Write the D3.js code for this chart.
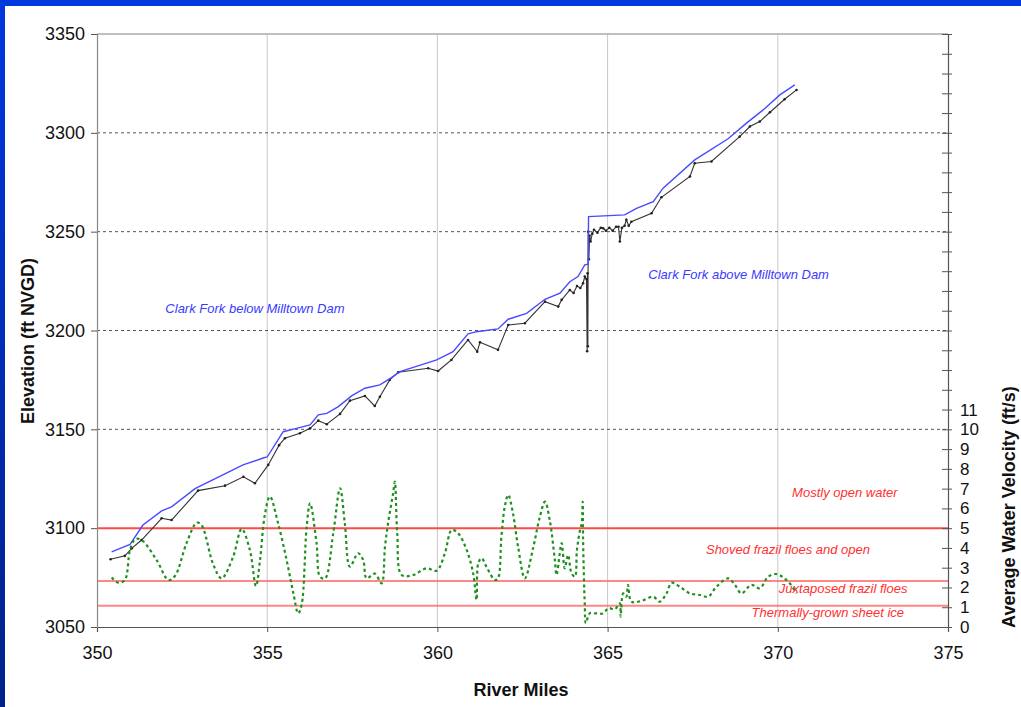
<!DOCTYPE html>
<html><head><meta charset="utf-8">
<script src="https://cdn.jsdelivr.net/npm/d3@7"></script>
<style>
body{margin:0;background:#fff;}
svg{display:block;font-family:"Liberation Sans",Arial,sans-serif;}
</style></head>
<body><svg id="c" width="1021" height="707"></svg>
<script>
// ---- data ----
const xTicks = [350, 355, 360, 365, 370, 375];
const elevTicks = [3050, 3100, 3150, 3200, 3250, 3300, 3350];
const velTickLabels = [0,1,2,3,4,5,6,7,8,9,10,11];

const wsMiles = [350.43,350.97,351.35,351.9,352.2,352.88,354.29,354.88,355.0,355.47,355.86,356.26,356.5,356.75,357.09,357.48,357.87,358.31,358.65,358.9,359.98,360.46,360.9,361.15,361.78,362.08,362.62,363.16,363.6,363.89,364.13,364.33,364.43,364.44,365.5,365.85,366.34,366.63,367.56,368.54,369.08,369.57,370.06,370.5];
const wsElev  = [3088,3091.8,3101.6,3108.7,3110.9,3120,3132,3135.5,3136,3148.8,3150.5,3152.2,3157.3,3158.1,3161.5,3166.9,3170.8,3172.5,3176.2,3179.2,3185.1,3189.3,3198.3,3199.4,3200.8,3205.7,3208.7,3215.8,3218.9,3224.7,3227.3,3233.2,3233.5,3257.6,3258.5,3261.8,3265.2,3272,3286.3,3297,3304.9,3311.6,3319.2,3324.3];

const bedMiles = [350.4,350.82,351.02,351.31,351.9,352.19,352.97,353.76,354.3,354.64,355.03,355.35,355.52,355.96,356.26,356.5,356.75,357.14,357.43,357.87,358.16,358.31,358.6,358.85,359.73,360.02,360.41,360.9,361.17,361.25,361.78,362.08,362.57,363.16,363.55,363.65,363.89,364.0,364.1,364.2,364.28,364.33,364.38,364.4,364.41,364.42,364.43,364.45,364.47,364.5,364.55,364.6,364.7,364.8,364.87,364.95,365.05,365.15,365.25,365.32,365.36,365.42,365.5,365.55,365.62,365.7,366.29,366.58,367.42,367.56,368.05,368.88,369.18,369.47,369.77,370.2,370.55];
const bedElev  = [3084.3,3086,3089.8,3094,3105,3104.1,3119,3121.5,3126,3122.7,3132,3142,3145.5,3148,3150.5,3154.4,3152.6,3157.8,3164.5,3166.9,3161.8,3166.5,3175,3178.9,3180.9,3179.5,3185.1,3195.2,3189.3,3194,3190.2,3202.8,3203.7,3214.6,3212.1,3215.5,3220.5,3219,3222.5,3221.5,3223.9,3227.3,3226,3189.5,3229,3192,3250,3236,3248,3245,3249,3251,3249.5,3252,3251.7,3250.5,3252,3250.5,3252.5,3252.5,3245,3252,3253,3256,3253,3255,3259.3,3267.4,3277.9,3284.6,3285.5,3298.1,3303.2,3305.7,3310.4,3317,3321.7];

const velMiles = [350.43,350.63,350.82,350.97,351.12,351.31,351.75,352.1,352.29,352.63,352.93,353.07,353.42,353.66,354.0,354.25,354.49,354.67,354.79,354.93,355.08,355.32,355.57,355.77,355.91,356.01,356.16,356.26,356.45,356.55,356.7,356.94,357.14,357.28,357.43,357.67,357.82,357.92,358.16,358.36,358.46,358.55,358.7,358.75,358.82,358.95,359.29,359.68,359.98,360.22,360.42,360.61,360.86,361.05,361.15,361.2,361.3,361.44,361.69,361.78,361.88,361.98,362.08,362.22,362.37,362.57,362.81,363.01,363.16,363.3,363.45,363.5,363.65,363.74,363.84,363.94,364.04,364.1,364.19,364.24,364.27,364.28,364.33,364.36,364.48,364.67,364.87,365.02,365.21,365.36,365.38,365.46,365.55,365.6,365.7,365.99,366.34,366.53,366.73,366.88,367.12,367.42,367.71,367.95,368.2,368.54,368.74,368.93,369.22,369.47,369.72,369.96,370.16,370.35,370.55];
const velValues = [2.5,2.24,2.38,3.9,4.44,4.4,3.39,2.38,2.58,4.24,5.28,5.16,3.14,2.46,3.56,4.96,3.9,2.07,3.39,5.67,6.6,5.25,3.39,1.7,0.69,1.11,5.08,6.26,4.24,2.55,2.46,4.74,7.02,5.25,3.05,3.73,3.39,2.46,2.7,2.21,4.06,5.25,6.77,7.35,4.74,2.63,2.63,2.97,2.85,3.73,4.91,4.74,3.9,2.72,1.37,3.22,3.48,3.05,2.38,2.46,4.57,6.09,6.68,5.75,4.06,2.46,3.98,5.58,6.34,5.41,3.39,2.63,4.24,2.97,3.64,2.72,2.55,3.9,4.91,5.25,6.34,4.4,1.11,0.2,0.7,0.69,0.69,0.95,0.9,1.2,0.52,1.7,1.53,2.13,1.28,1.32,1.53,1.28,1.7,2.24,2.04,1.7,1.62,1.53,2.04,2.46,2.13,1.7,2.13,1.96,2.55,2.68,2.51,2.21,1.7];

const iceThresholds = [5, 2.33, 1.08];
const iceLabels = ["Mostly open water","Shoved frazil floes and open","Juxtaposed frazil floes","Thermally-grown sheet ice"];
const iceLabelVel = [6.58, 3.69, 1.72, 0.51];
const iceLabelMile = [371.97, 370.3, 371.92, 371.47];
const reachLabels = ["Clark Fork below Milltown Dam","Clark Fork above Milltown Dam"];
const reachLabelMile = [354.64, 368.85];
const reachLabelElev = [3209, 3226];

// ---- chart ----
const svg = d3.select("#c");
const x = d3.scaleLinear([350, 375], [97, 948]);
const y = d3.scaleLinear([3050, 3350], [627, 34]);
const yv = d3.scaleLinear([0, 30], [627, 34]);

// frame
const defs = svg.append("defs");
const lg = defs.append("linearGradient").attr("id","fg").attr("x1",0).attr("y1",0).attr("x2",0).attr("y2",1);
lg.append("stop").attr("offset","0%").attr("stop-color","#0038e0");
lg.append("stop").attr("offset","100%").attr("stop-color","#00228a");
svg.append("rect").attr("x",0).attr("y",0).attr("width",5).attr("height",707).attr("fill","url(#fg)");
svg.append("rect").attr("x",0).attr("y",0).attr("width",1021).attr("height",6).attr("fill","#0038e0");

// vertical gridlines
svg.append("g").selectAll("line").data(xTicks.slice(1, -1)).join("line")
  .attr("x1", d => x(d)).attr("x2", d => x(d)).attr("y1", y(3350)).attr("y2", y(3050))
  .attr("stroke", "#c8c8c8").attr("stroke-width", 1);
// horizontal dashed gridlines
svg.append("g").selectAll("line").data(elevTicks.slice(2, -1)).join("line")
  .attr("x1", x(350)).attr("x2", x(375)).attr("y1", d => y(d)).attr("y2", d => y(d))
  .attr("stroke", "#555").attr("stroke-width", 1).attr("stroke-dasharray", "3,3");
// top border
svg.append("line").attr("x1", x(350)).attr("x2", x(375)).attr("y1", y(3350)).attr("y2", y(3350))
  .attr("stroke", "#aaa").attr("stroke-width", 1.5);

// ice regime lines
svg.append("g").selectAll("line").data(iceThresholds).join("line")
  .attr("x1", x(350)).attr("x2", x(375)).attr("y1", d => yv(d)).attr("y2", d => yv(d))
  .attr("stroke", (d,i) => i === 0 ? "#ff4040" : "#ff6a6a").attr("stroke-width", 2)
  .attr("opacity", (d,i) => i === 0 ? 0.95 : 0.8);

// axes
const gx = svg.append("g").attr("transform", `translate(0,${y(3050)})`)
  .call(d3.axisBottom(x).tickValues(xTicks).tickSize(5).tickPadding(14).tickFormat(d3.format("d")));
const gy = svg.append("g").attr("transform", `translate(${x(350)},0)`)
  .call(d3.axisLeft(y).tickValues(elevTicks).tickSize(6).tickPadding(6).tickFormat(d3.format("d")));
const gr = svg.append("g").attr("transform", `translate(${x(375)},0)`)
  .call(d3.axisRight(yv).tickValues(d3.range(0, 31)).tickSize(4).tickPadding(8)
    .tickFormat(d => velTickLabels.includes(d) ? d : ""));
gr.selectAll(".tick line").attr("x1", -6);
[gx, gy, gr].forEach(g => {
  g.select(".domain").attr("stroke", "#555").attr("stroke-width", 1.2);
  g.selectAll(".tick line").attr("stroke", "#555");
  g.selectAll("text").attr("font-family", '"Liberation Sans",Arial,sans-serif').attr("fill", "#111");
});
gx.selectAll("text").attr("font-size", 18);
gy.selectAll("text").attr("font-size", 18);
gr.selectAll("text").attr("font-size", 17);
gy.select(".domain").attr("stroke", "#888");

// lines
const wsData = wsMiles.map((m, i) => [m, wsElev[i]]);
const bedData = bedMiles.map((m, i) => [m, bedElev[i]]);
const velData = velMiles.map((m, i) => [m, velValues[i]]);

svg.append("path").datum(bedData)
  .attr("d", d3.line().x(d => x(d[0])).y(d => y(d[1])))
  .attr("fill", "none").attr("stroke", "#333").attr("stroke-width", 1.1);
svg.append("g").selectAll("circle").data(bedData).join("circle")
  .attr("cx", d => x(d[0])).attr("cy", d => y(d[1])).attr("r", 1.3).attr("fill", "#222");

svg.append("path").datum(wsData)
  .attr("d", d3.line().x(d => x(d[0])).y(d => y(d[1])))
  .attr("fill", "none").attr("stroke", "#4a4aff").attr("stroke-width", 1.4);

svg.append("path").datum(velData)
  .attr("d", d3.line().x(d => x(d[0])).y(d => yv(d[1])).curve(d3.curveCatmullRom.alpha(0.5)))
  .attr("fill", "none").attr("stroke", "#1f8f1f").attr("stroke-width", 2.2)
  .attr("stroke-dasharray", "3,3");

// labels
svg.append("g").selectAll("text").data(iceLabels).join("text")
  .attr("x", (d,i) => x(iceLabelMile[i])).attr("y", (d,i) => yv(iceLabelVel[i]))
  .attr("text-anchor", "middle").attr("font-size", 13).attr("font-style", "italic")
  .attr("fill", "#ff3030").text(d => d);
svg.append("g").selectAll("text").data(reachLabels).join("text")
  .attr("x", (d,i) => x(reachLabelMile[i])).attr("y", (d,i) => y(reachLabelElev[i]))
  .attr("text-anchor", "middle").attr("font-size", 13).attr("font-style", "italic")
  .attr("fill", "#3a3aff").text(d => d);

// axis titles
svg.append("text").attr("x", 521).attr("y", 696).attr("text-anchor", "middle")
  .attr("font-size", 18).attr("font-weight", "bold").attr("fill", "#111").text("River Miles");
svg.append("text").attr("transform", "translate(34,341) rotate(-90)").attr("text-anchor", "middle")
  .attr("font-size", 18).attr("font-weight", "bold").attr("fill", "#111").text("Elevation (ft NVGD)");
svg.append("text").attr("transform", "translate(1015,507) rotate(-90)").attr("text-anchor", "middle")
  .attr("font-size", 18).attr("font-weight", "bold").attr("fill", "#111").text("Average Water Velocity (ft/s)");
</script></body></html>
